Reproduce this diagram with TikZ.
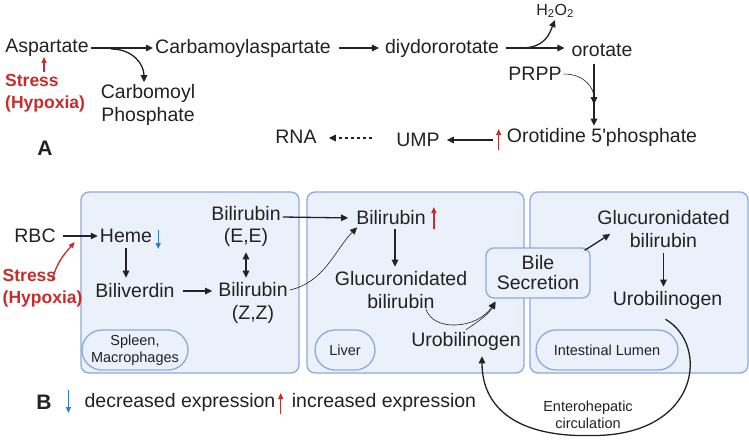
\documentclass[tikz,border=0pt]{standalone}
\usepackage{fontspec}
\setmainfont{Liberation Sans}
\usetikzlibrary{arrows.meta,calc}

\definecolor{ink}{HTML}{222222}
\definecolor{hypred}{HTML}{C62D2D}
\definecolor{downblue}{HTML}{2F7FC8}
\definecolor{boxfill}{HTML}{EAF1FB}
\definecolor{boxline}{HTML}{8EA9DB}

\begin{document}
\begin{tikzpicture}[x=1pt, y=-1pt,
    font=\fontsize{19.5}{23}\selectfont,
    every node/.style={inner sep=2pt, text=ink},
    arr/.style={-{Triangle[length=7pt,width=6.5pt]}, line width=1.3pt, draw=ink},
    thinarr/.style={-{Triangle[length=7pt,width=6.5pt]}, line width=0.6pt, draw=ink},
    dblarr/.style={{Triangle[length=7pt,width=6.5pt]}-{Triangle[length=7pt,width=6.5pt]}, line width=1.3pt, draw=ink},
    redup/.style={-{Triangle[length=6pt,width=5pt]}, line width=1.3pt, draw=hypred},
    bluedn/.style={-{Triangle[length=6pt,width=5pt]}, line width=1.3pt, draw=downblue},
    stress/.style={font=\fontsize{17.5}{22}\selectfont\bfseries, text=hypred, align=left},
    bigletter/.style={font=\fontsize{21}{24}\selectfont\bfseries},
    organ/.style={fill=boxfill, draw=boxline, line width=1.3pt, rounded corners=8pt},
    organlbl/.style={font=\fontsize{14.5}{17}\selectfont},
    pill/.style={organlbl, fill=boxfill, draw=boxline, line width=1.3pt, rounded corners=20pt, minimum height=40pt, align=center, inner sep=1pt},
    bilebox/.style={fill=boxfill, draw=boxline, line width=1.3pt, rounded corners=8pt, minimum width=104pt, minimum height=50pt, align=center, font=\fontsize{19.5}{20}\selectfont}]

  \path[use as bounding box, fill=white] (0,0) rectangle (749,440);

  % A: pyrimidine pathway
  \node (asp) at (47,48) {Aspartate};
  \node (carb) at (243,48) {Carbamoylaspartate};
  \node (dihy) at (442,48) {diydororotate};
  \node (orot) at (602,50) {orotate};
  \node[font=\fontsize{16}{18}\selectfont] (hoo) at (555,11) {H\textsubscript{2}O\textsubscript{2}};
  \node[align=center] (carbp) at (148,105) {Carbomoyl\\Phosphate};
  \node[stress, anchor=west] (strA) at (3,93) {Stress\\(Hypoxia)};
  \node (prpp) at (535,74) {PRPP};
  \node (oro5) at (602,137) {Orotidine 5\textquotesingle phosphate};
  \node (ump) at (418,140) {UMP};
  \node (rna) at (296,137) {RNA};
  \node[bigletter] (labA) at (45,148) {A};

  \draw[arr] (asp.east) -- (asp.east -| carb.west);
  \draw[arr, shorten <=6pt, shorten >=4pt] (carb.east) -- (carb.east -| dihy.west);
  \draw[arr, shorten <=5pt, shorten >=5pt] (dihy.east) -- (dihy.east -| orot.west);
  \draw[arr] ($(asp.east)+(20,1)$) .. controls +(22,0) and +(0,-18) .. ([xshift=-4pt]carbp.north);
  \draw[arr] ([xshift=20pt]dihy.east) .. controls +(25,0) and +(-5,12) .. (hoo.south);
  \draw[redup] ($(strA.north west)+(41,0)$) -- ($(asp.south)+(-3,-2)$);

  % orotate down to orotidine
  \coordinate (otop) at ([xshift=-8pt]orot.south);
  \coordinate (obot) at ([xshift=-8pt]oro5.north);
  \draw[arr, shorten <=5pt] (otop) -- (obot);
  \draw[thinarr] (prpp.east) .. controls +(22,0) and +(0,-15) .. ($(otop)!0.68!(obot)$);
  \draw[redup] ([xshift=-6pt,yshift=-13pt]oro5.west) -- ++(0,-21);
  \draw[arr, shorten >=5pt] ($(oro5.west |- ump.east)+(-12,0)$) -- (ump.east);
  \draw[arr, dashed, shorten >=10pt] ($(ump.west)+(-22,-2)$) -- ($(rna.east)+(0,1)$);

  % B: organ compartments
  \draw[organ] (81,192) rectangle (299,373);
  \draw[organ] (307,192) rectangle (524,373);
  \draw[organ] (530,192) rectangle (748,373);
  \node[pill, minimum width=106pt] (spleen) at (135,350) {Spleen,\\Macrophages};
  \node[pill, minimum width=60pt] (liver) at (345,350) {Liver};
  \node[pill, minimum width=142pt] (lumen) at (607,350) {Intestinal Lumen};

  % B: heme breakdown
  \node (rbc) at (35,236) {RBC};
  \node (heme) at (126,236) {Heme};
  \node[stress, anchor=west] (strB) at (0.5,288) {Stress\\(Hypoxia)};
  \node (biliv) at (135,291) {Biliverdin};
  \node (bee) at (246,214) {Bilirubin};
  \node (beeiso) at (246,237) {(E,E)};
  \node (bzz) at (253,290) {Bilirubin};
  \node (bzziso) at (253,314) {(Z,Z)};
  \node (bilL) at (391,218) {Bilirubin};
  \node[align=center] (glucL) at (401,290.5) {Glucuronidated\\bilirubin};
  \node (uroL) at (466,341) {Urobilinogen};
  \node[bilebox] (bile) at (538,273) {Bile\\Secretion};
  \node[align=center] (glucI) at (663.5,229) {Glucuronidated\\bilirubin};
  \node (uroI) at (667.5,300) {Urobilinogen};
  \node[organlbl, align=center] (ehc) at (588,414.5) {Enterohepatic\\circulation};

  \draw[arr, shorten <=5pt] (rbc.east) -- (rbc.east -| heme.west);
  \draw[redup] ($(strB.west)+(52,-8)$) .. controls +(4,-18) and +(-10,12) .. ($(rbc.east)!0.42!(heme.west)+(0,6)$);
  \draw[bluedn] ([xshift=4pt,yshift=6pt]heme.east) -- ++(0,19);
  \draw[arr, shorten <=3pt, shorten >=4pt] (heme.south) -- (heme.south |- biliv.north);
  \draw[arr, shorten <=6pt, shorten >=4pt] (biliv.east) -- (biliv.east -| bzz.west);
  \draw[dblarr, shorten <=4pt, shorten >=3pt] (beeiso.south) -- (beeiso.south |- bzz.north);
  \draw[arr, shorten >=6pt] ($(bee.east)+(0,3)$) -- (bilL.west);
  \draw[thinarr] (bzz.east) .. controls +(35,-8) and +(-22,22) .. ([xshift=3pt]bilL.south west);
  \draw[redup] ([xshift=6pt,yshift=-11pt]bilL.east) -- ++(0,-22);
  \draw[arr, shorten >=3pt] ($(bilL.south)+(4,2)$) -- ($(glucL.north)+(-6,0)$);
  \draw[thinarr] ($(glucL.south)+(25,-2)$) .. controls +(8,23) and +(-18,27) .. ([xshift=10pt,yshift=-3pt]bile.south west);
  \draw[thinarr] (uroL.north) .. controls +(12,-8) and +(-6,12) .. ([xshift=10pt,yshift=-3pt]bile.south west);
  \draw[arr] ($(bile.north east)+(-6,3)$) -- ($(glucI.west)+(15,5)$);
  \draw[arr, shorten <=3pt, shorten >=2pt] (glucI.south) -- (glucI.south |- uroI.north);

  % enterohepatic loop
  \draw[arr] ($(uroI.south)+(-2,8)$) .. controls (710,345) and (700,437) .. ($(ehc.south)+(2,5)$)
    .. controls (520,437) and (482,410) .. ($(uroL.south)+(16,4)$);

  % legend
  \node[bigletter] (labB) at (44,402) {B};
  \node (dec) at (180,402) {decreased expression};
  \node (inc) at (384,402) {increased expression};
  \draw[bluedn] ($(dec.west)+(-14,-12)$) -- ++(0,23);
  \draw[redup] ($(inc.west)+(-9,12)$) -- ++(0,-21);
\end{tikzpicture}
\end{document}
